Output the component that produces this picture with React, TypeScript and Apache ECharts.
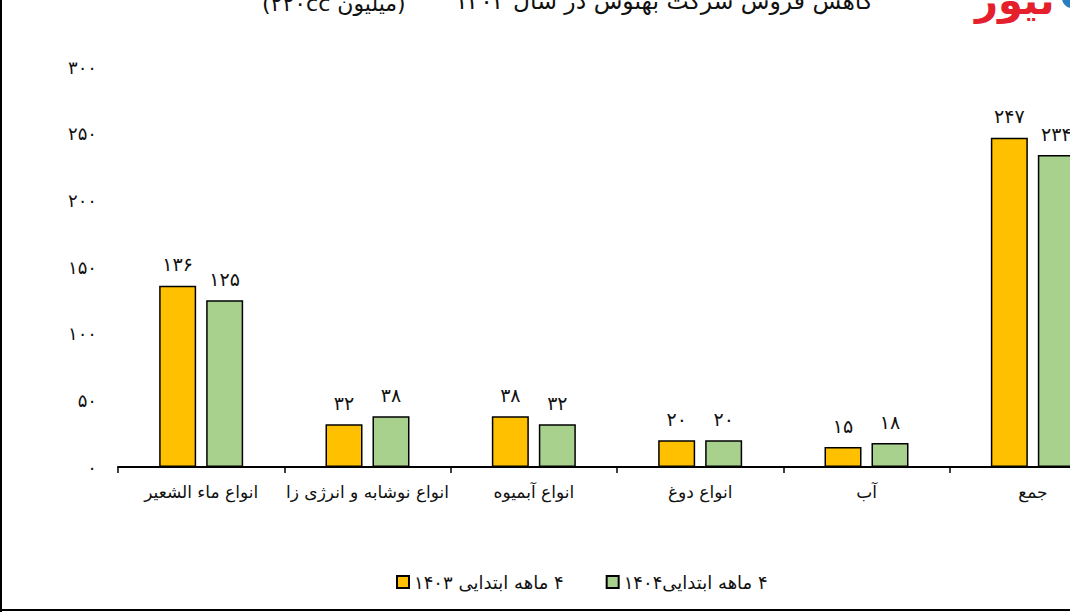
import React, { useEffect, useRef } from "react";
import * as echarts from "echarts";

const categories = [
  "انواع ماء الشعیر",
  "انواع نوشابه و انرژی زا",
  "انواع آبمیوه",
  "انواع دوغ",
  "آب",
  "جمع",
];
const sales1403 = [136, 32, 38, 20, 15, 247];
const sales1404 = [125, 38, 32, 20, 18, 234];
const seriesNames = ["۴ ماهه ابتدایی ۱۴۰۳", "۴ ماهه ابتدایی۱۴۰۴"];
const titleMain = "کاهش فروش شرکت بهنوش در سال ۱۴۰۴";
const titleSub = "(میلیون ۲۲۰cc)";
const yMin = 0;
const yMax = 300;
const yStep = 50;

const FA = "۰۱۲۳۴۵۶۷۸۹";
const toFa = (v: number | string) => String(v).replace(/\d/g, (d) => FA[Number(d)]);
const rtl = (s: string) => "\u202B" + s + "\u202C";

const FONT = "DejaVu Sans";

export default function App() {
  const ref = useRef<HTMLDivElement>(null);
  useEffect(() => {
    if (!ref.current) return;
    const chart = echarts.init(ref.current, null, { renderer: "svg" });
    const labelCfg = {
      show: true,
      position: "top" as const,
      distance: 12,
      fontSize: 19,
      color: "#111",
      fontFamily: FONT,
      formatter: (p: any) => toFa(p.value),
    };
    chart.setOption({
      animation: false,
      backgroundColor: "#fff",
      textStyle: { fontFamily: FONT },
      grid: { left: 118, top: 67, width: 998, height: 400 },
      legend: {
        left: 391,
        top: 568,
        itemWidth: 12,
        itemHeight: 12,
        itemGap: 42,
        icon: "rect",
        textStyle: { fontSize: 18, color: "#111", fontFamily: FONT },
        formatter: (n: string) => rtl(n),
        data: seriesNames,
      },
      xAxis: {
        type: "category",
        data: categories,
        axisLine: { lineStyle: { color: "#000", width: 2 } },
        axisTick: { show: true, interval: 0, length: 6, lineStyle: { color: "#000", width: 1.5 } },
        axisLabel: {
          interval: 0,
          margin: 16,
          fontSize: 17,
          color: "#111",
          fontFamily: FONT,
          formatter: (v: string) => rtl(v),
        },
      },
      yAxis: {
        type: "value",
        min: yMin,
        max: yMax,
        interval: yStep,
        axisLine: { show: false },
        axisTick: { show: false },
        splitLine: { show: false },
        axisLabel: {
          margin: 21,
          fontSize: 18,
          color: "#111",
          fontFamily: FONT,
          formatter: (v: number) => toFa(v),
        },
      },
      series: [
        {
          name: seriesNames[0],
          type: "bar",
          data: sales1403,
          barWidth: 37,
          barGap: "27%",
          itemStyle: { color: "#FFC000", borderColor: "#000", borderWidth: 1.5 },
          label: labelCfg,
        },
        {
          name: seriesNames[1],
          type: "bar",
          data: sales1404,
          barWidth: 37,
          itemStyle: { color: "#A9D18E", borderColor: "#000", borderWidth: 1.5 },
          label: labelCfg,
        },
      ],
      graphic: [
        {
          type: "text",
          left: 455,
          top: -11,
          style: {
            text: rtl(titleMain),
            fontSize: 23.5,
            fill: "#111",
            fontFamily: FONT,
          },
        },
        {
          type: "text",
          left: 262,
          top: -8,
          style: {
            text: rtl(titleSub),
            fontSize: 22,
            fill: "#111",
            fontFamily: FONT,
          },
        },
        {
          type: "text",
          left: 975,
          top: -20,
          style: {
            text: rtl("نیوز"),
            fontSize: 40,
            fontWeight: "bold",
            fill: "#E3202B",
            fontFamily: FONT,
          },
        },
        {
          type: "circle",
          shape: { cx: 1072, cy: -2, r: 10 },
          style: { fill: "#2A7DC1" },
        },
        {
          type: "rect",
          shape: { x: 0, y: 0, width: 2, height: 612 },
          style: { fill: "#000" },
        },
        {
          type: "rect",
          shape: { x: 0, y: 609, width: 1200, height: 2 },
          style: { fill: "#000" },
        },
      ],
    });
    return () => chart.dispose();
  }, []);
  return (
    <div
      style={{
        position: "fixed",
        left: 0,
        top: 0,
        width: 1070,
        height: 613,
        overflow: "hidden",
        background: "#fff",
      }}
    >
      <div ref={ref} style={{ width: 1200, height: 613 }} />
    </div>
  );
}
